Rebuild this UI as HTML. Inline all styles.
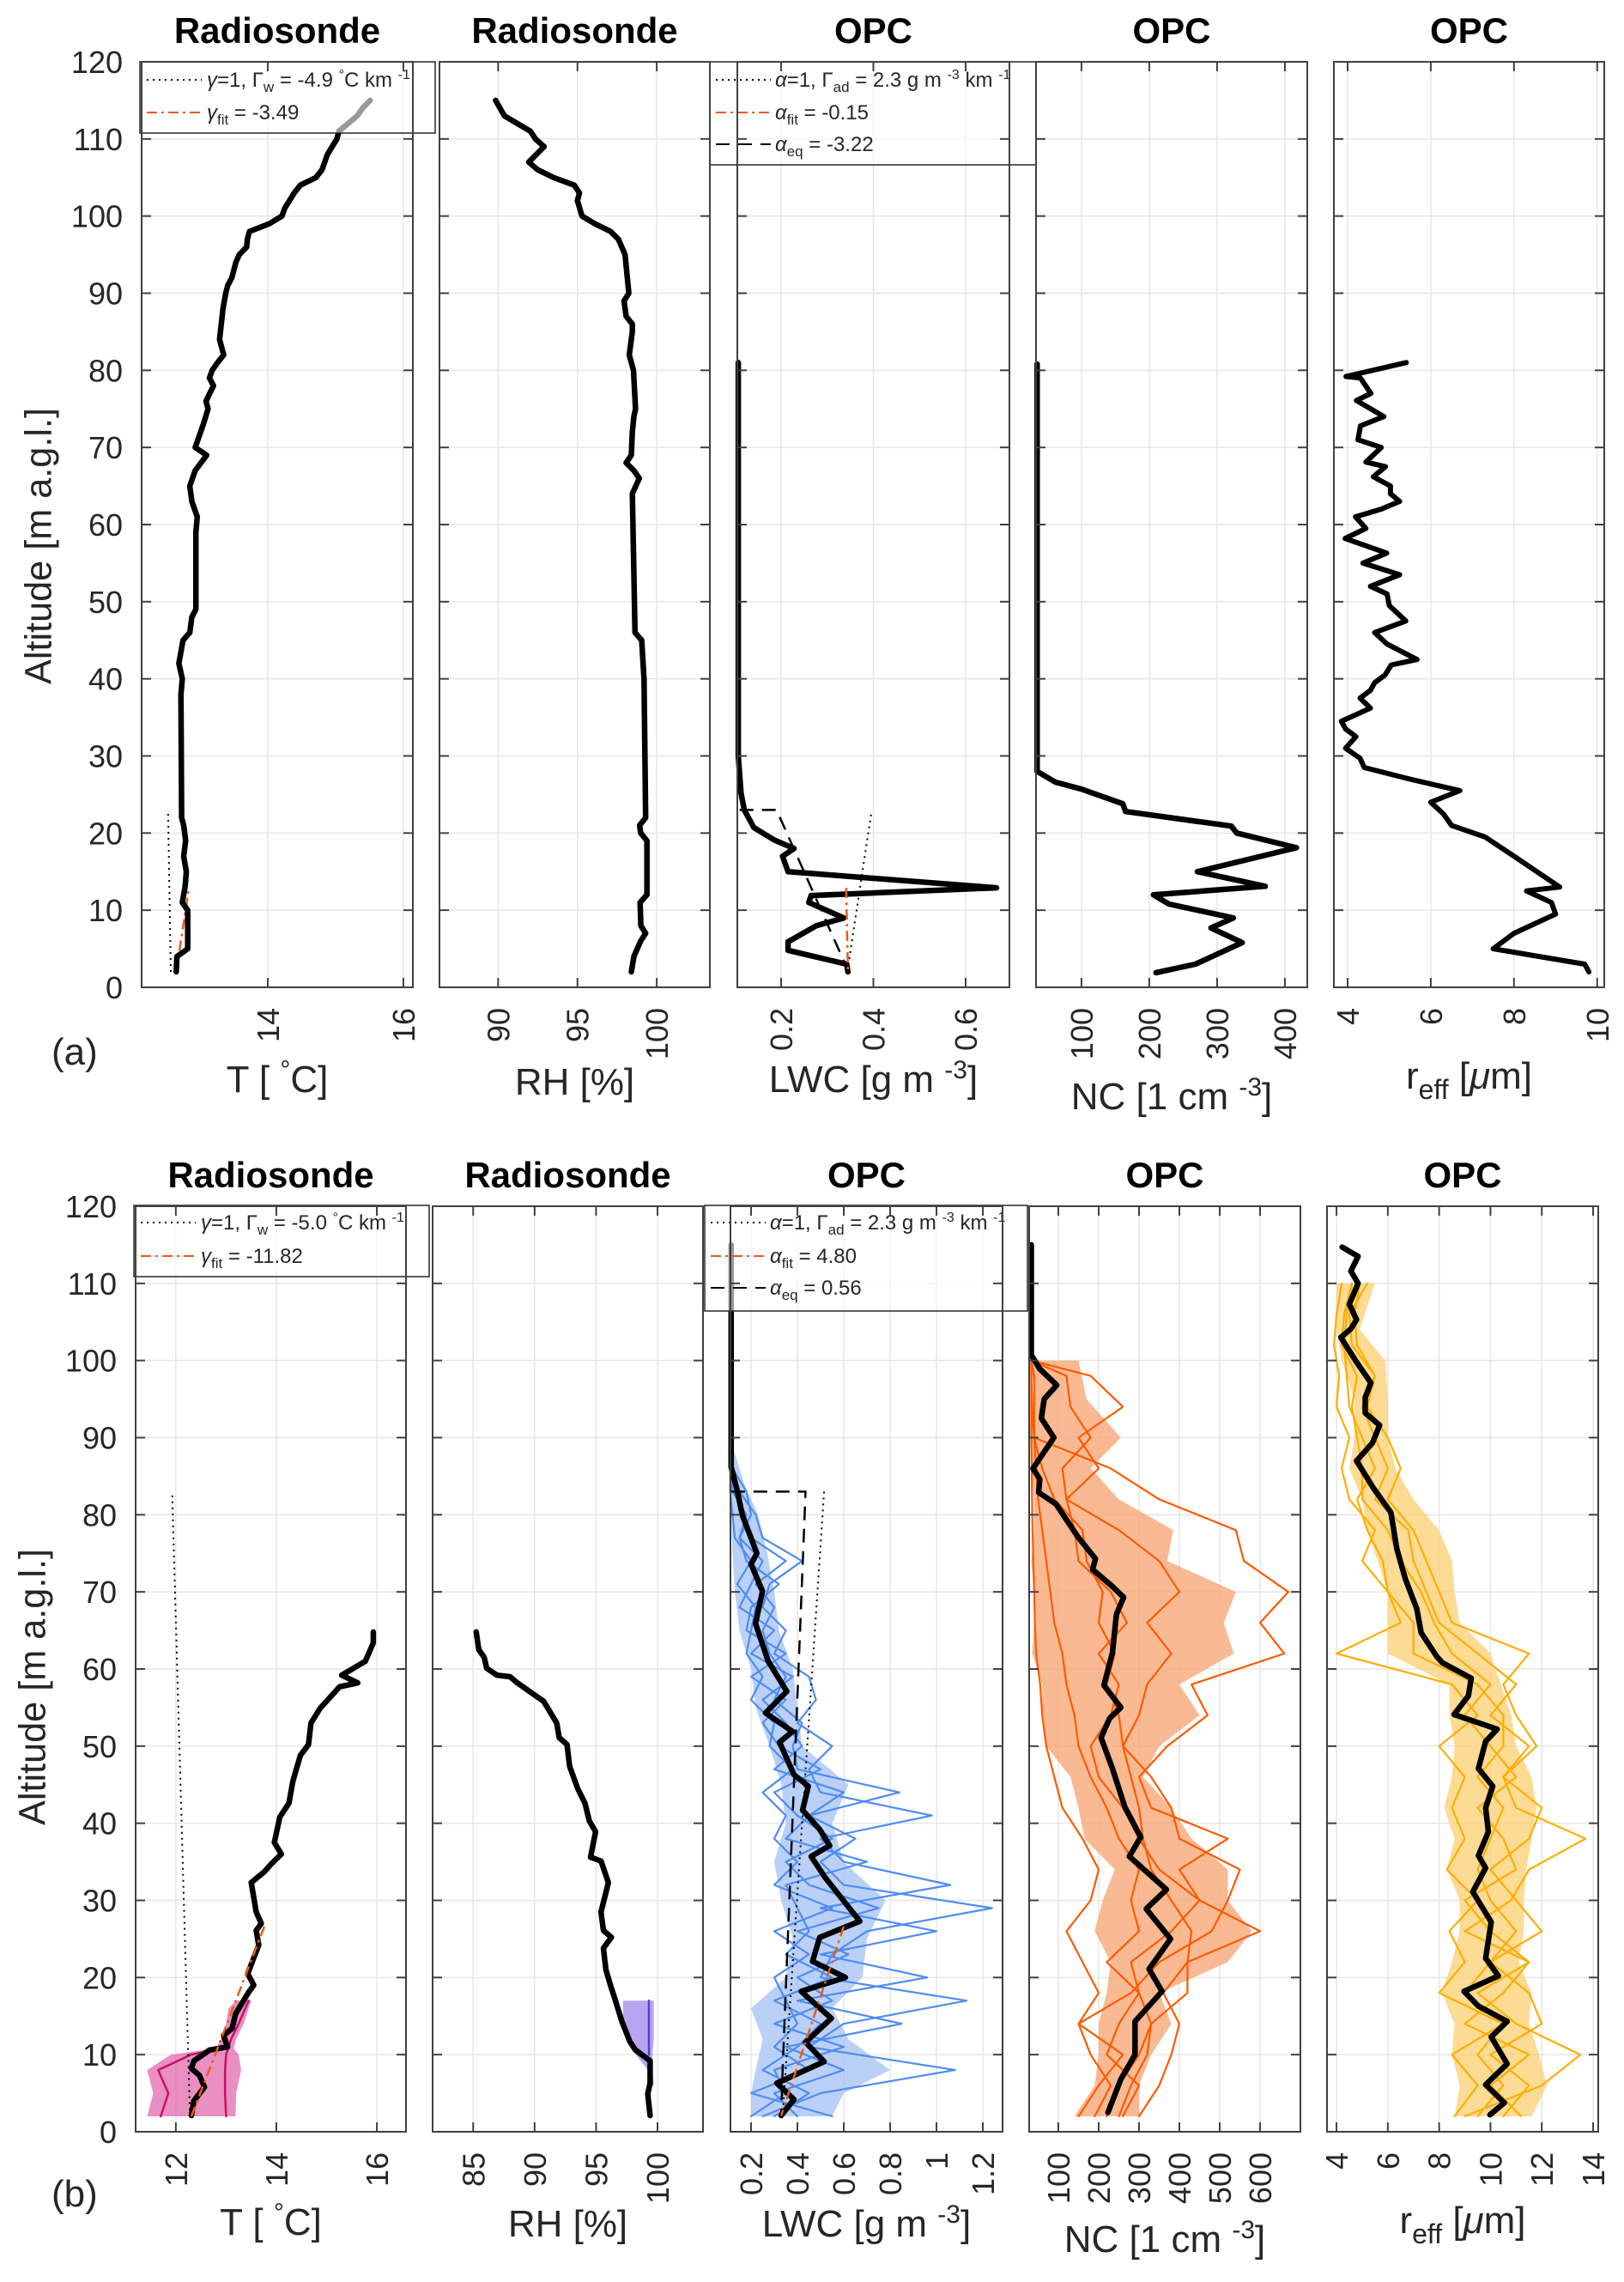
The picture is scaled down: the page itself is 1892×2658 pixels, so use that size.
<!DOCTYPE html>
<html><head><meta charset="utf-8"><title>Radiosonde and OPC profiles</title>
<style>
html,body{margin:0;padding:0;background:#fff;}
svg{display:block;font-family:"Liberation Sans",Arial,sans-serif;}
</style></head>
<body>
<svg id="chart" width="1892" height="2658" viewBox="0 0 1892 2658" xmlns="http://www.w3.org/2000/svg">
<rect x="0" y="0" width="1892" height="2658" fill="#fff"/>
<g id="plots"></g>

<g font-size="24" fill="#262626">
  <rect x="163" y="72" width="344" height="83" fill="#fff" fill-opacity="0.6" stroke="#262626" stroke-width="1.5"/>
  <line x1="171" y1="93" x2="235" y2="93" stroke="#000" stroke-width="2" stroke-dasharray="2,5"/>
  <text x="241" y="101"><tspan font-style="italic">γ</tspan>=1,   Γ<tspan dy="6" font-size="17">w</tspan><tspan dy="-6"> = -4.9 </tspan><tspan dy="-9" font-size="16">°</tspan><tspan dy="9">C km </tspan><tspan dy="-9" font-size="16">-1</tspan></text>
  <line x1="171" y1="131" x2="235" y2="131" stroke="#f05a14" stroke-width="2" stroke-dasharray="12,5,3,5"/>
  <text x="241" y="139"><tspan font-style="italic">γ</tspan><tspan dy="6" font-size="17">fit</tspan><tspan dy="-6"> = -3.49</tspan></text>
</g>
<g font-size="24" fill="#262626">
  <rect x="827" y="72" width="380" height="120" fill="#fff" fill-opacity="0.6" stroke="#262626" stroke-width="1.5"/>
  <line x1="834" y1="93" x2="898" y2="93" stroke="#000" stroke-width="2" stroke-dasharray="2,5"/>
  <text x="903" y="101"><tspan font-style="italic">α</tspan>=1,   Γ<tspan dy="6" font-size="17">ad</tspan><tspan dy="-6"> = 2.3 g m </tspan><tspan dy="-9" font-size="16">-3</tspan><tspan dy="9"> km </tspan><tspan dy="-9" font-size="16">-1</tspan></text>
  <line x1="834" y1="131" x2="898" y2="131" stroke="#f05a14" stroke-width="2" stroke-dasharray="12,5,3,5"/>
  <text x="903" y="139"><tspan font-style="italic">α</tspan><tspan dy="6" font-size="17">fit</tspan><tspan dy="-6"> = -0.15</tspan></text>
  <line x1="834" y1="168" x2="898" y2="168" stroke="#000" stroke-width="2" stroke-dasharray="16,10"/>
  <text x="903" y="176"><tspan font-style="italic">α</tspan><tspan dy="6" font-size="17">eq</tspan><tspan dy="-6"> = -3.22</tspan></text>
</g>
<g font-size="24" fill="#262626">
  <rect x="156" y="1404" width="344" height="83" fill="#fff" fill-opacity="0.6" stroke="#262626" stroke-width="1.5"/>
  <line x1="164" y1="1424" x2="228" y2="1424" stroke="#000" stroke-width="2" stroke-dasharray="2,5"/>
  <text x="234" y="1432"><tspan font-style="italic">γ</tspan>=1,   Γ<tspan dy="6" font-size="17">w</tspan><tspan dy="-6"> = -5.0 </tspan><tspan dy="-9" font-size="16">°</tspan><tspan dy="9">C km </tspan><tspan dy="-9" font-size="16">-1</tspan></text>
  <line x1="164" y1="1463" x2="228" y2="1463" stroke="#f05a14" stroke-width="2" stroke-dasharray="12,5,3,5"/>
  <text x="234" y="1471"><tspan font-style="italic">γ</tspan><tspan dy="6" font-size="17">fit</tspan><tspan dy="-6"> = -11.82</tspan></text>
</g>
<g font-size="24" fill="#262626">
  <rect x="821" y="1404" width="376" height="123" fill="#fff" fill-opacity="0.6" stroke="#262626" stroke-width="1.5"/>
  <line x1="828" y1="1424" x2="892" y2="1424" stroke="#000" stroke-width="2" stroke-dasharray="2,5"/>
  <text x="897" y="1432"><tspan font-style="italic">α</tspan>=1,   Γ<tspan dy="6" font-size="17">ad</tspan><tspan dy="-6"> = 2.3 g m </tspan><tspan dy="-9" font-size="16">-3</tspan><tspan dy="9"> km </tspan><tspan dy="-9" font-size="16">-1</tspan></text>
  <line x1="828" y1="1463" x2="892" y2="1463" stroke="#f05a14" stroke-width="2" stroke-dasharray="12,5,3,5"/>
  <text x="897" y="1471"><tspan font-style="italic">α</tspan><tspan dy="6" font-size="17">fit</tspan><tspan dy="-6"> = 4.80</tspan></text>
  <line x1="828" y1="1500" x2="892" y2="1500" stroke="#000" stroke-width="2" stroke-dasharray="16,10"/>
  <text x="897" y="1508"><tspan font-style="italic">α</tspan><tspan dy="6" font-size="17">eq</tspan><tspan dy="-6"> = 0.56</tspan></text>
</g>

<g id="frames"></g>

<g font-size="44" fill="#262626">
  <text x="45" y="636" transform="rotate(-90 45 636)" text-anchor="middle" dominant-baseline="central" textLength="322" lengthAdjust="spacingAndGlyphs">Altitude [m a.g.l.]</text>
  <text x="38" y="1965" transform="rotate(-90 38 1965)" text-anchor="middle" dominant-baseline="central" textLength="322" lengthAdjust="spacingAndGlyphs">Altitude [m a.g.l.]</text>
  <text x="60" y="1240">(a)</text>
  <text x="60" y="2570">(b)</text>
</g>
</svg>

<script>
// ---------------- DATA: row (a) ----------------
const aT_alt  = [2,4,5,10,11,13,15,17,19,21,22,38,40,42,45,46,48,49,59,61,63,65,67,69,70,73,75,76,78,79,80,81,82,84,88,90,91,92,94,95,96,97,98,99,100,101,103,104,105,106,108,110,111];
const aT_val  = [12.65,12.66,12.82,12.82,12.74,12.78,12.80,12.76,12.79,12.76,12.73,12.72,12.74,12.69,12.75,12.85,12.88,12.94,12.94,12.96,12.88,12.85,12.93,13.10,12.93,13.05,13.12,13.09,13.2,13.14,13.18,13.26,13.35,13.29,13.34,13.38,13.41,13.47,13.53,13.58,13.69,13.70,13.73,14.02,14.21,14.25,14.39,14.48,14.71,14.80,14.88,15.02,15.05];
const aTg_alt = [111,113,114,115];
const aTg_val = [15.05,15.32,15.40,15.51];
const aTdot_alt = [2,23];   const aTdot_val = [12.57,12.53];
const aTfit_alt = [2,13];   const aTfit_val = [12.65,12.84];

const aRH_alt = [2,4,6,7,8,11,12,19,20,21,22,40,45,46,64,66,67,68,69,72,74,75,80,82,84,85,86,87,89,90,95,97,98,99,100,102,103,104,105,106,107,109,110,111,113,115];
const aRH_val = [98.4,98.56,98.99,99.3,99.0,98.95,99.38,99.38,98.99,98.92,99.3,99.2,99.05,98.63,98.46,98.9,98.56,98.07,98.4,98.46,98.56,98.66,98.53,98.27,98.4,98.46,98.46,98.07,97.94,98.24,98.0,97.58,97.09,96.11,95.29,95.0,95.13,94.8,93.5,92.5,91.93,92.9,92.35,92.03,90.39,89.84];

const aLWC_alt = [81,30,25.2,23,20.7,19.1,18,17,15,12.9,11.9,11,9,8,5.9,4.8,3,2];
const aLWC_val = [0.107,0.107,0.113,0.12,0.141,0.185,0.228,0.203,0.215,0.667,0.265,0.26,0.336,0.277,0.215,0.215,0.342,0.345];
const aLWCeq_alt = [23,23,2.6];   const aLWCeq_val = [0.11,0.19,0.342];
const aLWCdot_alt = [22.4,2.6];   const aLWCdot_val = [0.395,0.345];
const aLWCfit_alt = [12.9,2];     const aLWCfit_val = [0.341,0.345];

const aNC_alt = [80.8,28,26.6,25.7,23.8,22.8,20.9,20,18.1,15,13.1,12,10.8,9,7.7,5.8,3,1.9];
const aNC_val = [34.7,34.7,61.5,100,161,165,321,329,417,271,371,206,229,324,291,337,268,210];

const aR_alt = [81,79.2,79,77,76.1,74,72.8,71,70,68.1,67.5,66.2,65,64,63,62,61,59.5,58.2,56.3,55,53.5,52,51,49.5,47.5,46,44.5,42.5,41.8,40.5,39.5,38.5,37.5,36.2,34.5,33.5,32.5,31,29.7,28.5,27,25.5,24,22.5,21,19.5,17,13,12.5,11,9.5,7,5,3,2];
const aR_val = [5.41,3.96,4.31,4.56,4.21,4.87,4.31,4.25,4.81,4.44,4.91,4.62,5.03,5.03,5.25,4.81,4.19,4.44,3.94,4.94,4.37,5.25,4.55,4.95,5.0,5.4,4.65,4.95,5.67,5.05,4.9,4.65,4.55,4.3,4.55,3.85,3.95,4.2,3.95,4.3,4.4,5.5,6.7,6.0,6.3,6.5,7.3,8.0,9.1,8.3,8.9,9.0,8.0,7.5,9.7,9.8];

// ---------------- DATA: row (b) ----------------
const bT_alt = [2.1,4,5.8,7.3,8.2,9.2,10.6,11,12.5,13.4,15.3,18.1,19,20.5,24.2,26.1,27,28.5,32.3,33.7,34.6,36,37.5,40.8,42.6,45.5,48.8,50.2,53,54.9,57.7,58.2,59.2,61,63.4,64.8];
const bT_val = [12.31,12.36,12.57,12.47,12.31,12.36,12.67,13.03,12.95,13.12,13.19,13.45,13.55,13.43,13.65,13.6,13.7,13.6,13.5,13.76,13.88,14.1,13.96,14.07,14.25,14.33,14.48,14.64,14.69,14.87,15.26,15.62,15.3,15.77,15.93,15.93];
const bTdot_alt = [82.5,2.5];  const bTdot_val = [11.93,12.28];
const bTfit_alt = [2,26.6];    const bTfit_val = [12.31,13.76];
const bTband_alt = [2,5,8,10,10.8,12,14,16,17];
const bTband_lo  = [11.43,11.55,11.43,11.9,12.8,12.9,13.0,13.05,13.2];
const bTband_hi  = [13.19,13.2,13.3,13.25,13.15,13.2,13.35,13.45,13.5];
const bTpinkA_alt = [2,5,8,10,10.8];      const bTpinkA_val = [11.7,11.85,11.65,12.3,12.9];
const bTpinkB_alt = [2,5,8,10,12,14,17];  const bTpinkB_val = [13.0,12.98,12.98,13.0,13.1,13.25,13.45];

const bRH_alt = [2.1,4.9,6.3,9.2,10.6,11.7,14.3,17.6,18.6,21,23.8,25.2,26.1,28.5,32.3,35.1,35.6,38.9,40.3,42.6,44.5,47.4,50.2,51.1,53,55.8,58.2,59,59.2,60.1,61.5,62.5,64.8];
const bRH_val = [99.4,99.2,99.4,99.4,98.2,97.75,97.1,96.46,96.25,95.8,95.6,96.25,95.6,95.4,96.0,95.4,94.55,94.96,94.45,94.1,93.5,92.85,92.64,92.0,91.8,90.74,88.6,88.0,86.94,86.1,85.9,85.46,85.25];
const bRHband_alt = [6,8,10.5,12,15,17];
const bRHband_lo  = [99.2,99.2,98.0,97.6,97.2,97.2];
const bRHband_hi  = [99.7,99.6,99.6,99.7,99.7,99.7];
const bRHline_alt = [10,12,15,17];  const bRHline_val = [99.3,99.3,99.3,99.3];

const bLWC_alt = [106.5,86.2,83.4,79.9,75,73.6,70.1,65.9,61,57.1,54.3,51.9,50.5,46.3,44.8,41.7,39.2,37.1,35.7,32.9,27.3,25.2,22.1,20,18.2,14.7,11.6,9.1,6.3,4.2,2.1];
const bLWC_val = [0.114,0.114,0.138,0.163,0.225,0.2,0.249,0.219,0.274,0.354,0.262,0.379,0.323,0.385,0.447,0.422,0.496,0.539,0.459,0.521,0.669,0.496,0.465,0.607,0.416,0.546,0.435,0.515,0.311,0.385,0.33];
const bLWCg_alt = [115,106.5];  const bLWCg_val = [0.114,0.114];
const bLWCeq_alt = [83,83,8.1,2.1];   const bLWCeq_val = [0.114,0.435,0.336,0.33];
const bLWCdot_alt = [83,2.1];   const bLWCdot_val = [0.515,0.336];
const bLWCfit_alt = [26.6,2.1]; const bLWCfit_val = [0.6,0.33];
const bLWCband_alt = [2,5,8,12,16,20,25,30,35,40,45,50,55,60,65,70,75,80,84,88];
const bLWCband_lo  = [0.2,0.2,0.22,0.25,0.2,0.35,0.38,0.33,0.3,0.35,0.33,0.28,0.22,0.2,0.15,0.13,0.12,0.115,0.11,0.11];
const bLWCband_hi  = [0.55,0.6,0.8,0.62,0.55,0.68,0.7,0.78,0.6,0.55,0.62,0.42,0.4,0.38,0.32,0.3,0.27,0.23,0.17,0.13];
const bLWCens_alt = [2,5,8,11,14,17,20,23,26,29,32,35,38,41,44,47,50,53,56,59,62,65,68,71,74,77,80,83,86];
const blue1 = [0.25,0.5,1.08,0.45,0.6,1.13,0.5,0.55,0.7,1.24,0.6,0.5,0.65,0.45,0.84,0.4,0.38,0.42,0.3,0.35,0.28,0.25,0.3,0.22,0.35,0.2,0.16,0.13,0.12];
const blue2 = [0.4,0.3,0.6,0.35,0.85,0.4,0.96,0.5,1.0,0.5,1.06,0.6,0.5,0.98,0.5,0.45,0.55,0.4,0.48,0.45,0.3,0.35,0.25,0.28,0.42,0.25,0.22,0.15,0.11];
const blue3 = [0.2,0.35,0.3,0.6,0.3,0.55,0.4,0.62,0.4,0.75,0.45,0.35,0.55,0.4,0.3,0.5,0.32,0.25,0.35,0.2,0.35,0.18,0.2,0.32,0.18,0.15,0.2,0.18,0.12];
const blue4 = [0.3,0.45,0.25,0.4,0.5,0.3,0.55,0.35,0.45,0.4,0.35,0.7,0.35,0.45,0.6,0.3,0.42,0.35,0.25,0.38,0.2,0.3,0.15,0.2,0.25,0.15,0.18,0.12,0.11];
const blue5 = [0.55,0.2,0.45,0.3,0.4,0.35,0.3,0.45,0.3,0.55,0.3,0.4,0.3,0.35,0.25,0.38,0.28,0.3,0.2,0.25,0.18,0.2,0.22,0.14,0.2,0.13,0.12,0.11,0.11];

const bNC_alt = [115,100.7,98.9,96.8,95,92.5,90,86,84.6,82.9,81.4,77.1,74.3,72.9,70.7,69.3,67.1,62.1,57.9,55,53.6,51.1,47.1,42.1,38.2,35.7,31.4,28.9,25,21.1,18.2,14.3,10,6.8,2.5];
const bNC_val = [33,33,54,96,65,58,89,37,54,51,94,149,192,185,234,262,244,234,213,255,227,206,234,265,304,276,368,318,378,325,357,290,290,255,223];
const bNCband_alt = [2,6,10,14,18,22,26,30,34,38,42,46,50,54,58,62,66,70,74,78,82,86,90,95,100];
const bNCband_lo  = [140,190,200,200,220,230,190,210,240,165,150,130,70,60,60,35,40,40,33,40,40,33,33,40,33];
const bNCband_hi  = [300,300,330,380,350,520,580,520,520,430,380,310,350,450,400,535,510,540,370,385,250,180,255,170,150];
const bNCens_alt = [2,6,10,14,18,22,26,30,34,38,42,46,50,54,58,62,66,70,74,78,82,86,90,94,98,100];
const nc1 = [250,280,320,330,420,420,600,450,400,520,330,300,370,470,430,660,600,670,560,540,350,230,40,40,40,33];
const nc2 = [150,200,260,150,280,350,480,520,550,400,380,330,260,300,320,380,320,400,350,250,120,200,150,260,180,33];
const nc3 = [220,250,300,330,300,280,380,450,350,300,260,200,180,230,250,200,270,230,150,140,120,110,180,130,120,33];
const nc4 = [260,300,220,250,300,220,300,280,300,250,220,180,150,140,120,110,90,80,70,60,50,45,40,35,33,33];
const nc5 = [190,230,180,150,200,160,120,180,200,160,110,90,70,60,55,45,42,40,38,36,35,34,33,33,33,33];
const nc6 = [300,350,380,400,360,420,430,380,330,310,300,280,260,250,220,240,200,210,170,160,90,60,40,35,33,33];

const bR_alt = [114.7,113.5,111.6,110,107.3,105.3,104.1,103,99.8,97.1,95.2,93.2,91.6,89.3,87,83.4,80.3,75.6,71.7,67.8,64.7,61.6,60.8,58.8,56.5,54.1,52.2,50.6,47.1,44.8,42,38.9,35.8,34.2,31.1,27.2,22.5,20.2,18.2,16.3,14.3,12.3,8.8,6.1,3.75,2.2];
const bR_val = [4.22,4.84,4.56,4.84,4.5,4.78,4.56,4.17,4.78,5.34,5.12,5.12,5.68,5.4,4.78,5.45,6.12,6.35,6.68,7.13,7.3,7.91,8.13,9.25,9.14,8.58,10.26,9.81,9.53,10.09,9.81,9.92,9.53,9.81,9.31,10.03,9.81,10.31,8.97,9.53,10.65,10.03,10.65,9.81,10.54,9.98];
const bRband_alt = [2,6,10,14,18,22,26,30,34,38,42,46,50,54,58,62,66,70,74,78,82,86,90,95,100,104,110];
const bRband_lo  = [8.6,8.8,8.5,8.6,8.1,8.5,8.8,8.8,8.3,8.6,8.2,8.5,8.6,8.4,8.4,6.0,6.0,6.0,5.6,5.2,5.0,4.5,4.7,4.7,4.2,4.0,4.0];
const bRband_hi  = [11.6,12.2,11.9,11.5,11.6,11.1,11.3,11.3,11.4,11.6,11.8,11.6,11.0,10.8,10.4,10.0,8.8,8.6,8.5,8.0,7.0,6.3,6.0,6.0,5.9,4.9,5.5];
const bRens_alt = [2,6,10,14,18,22,26,30,34,38,42,46,50,54,58,62,66,70,74,78,82,86,90,94,98,102,106,110];
const r1 = [9.0,12.0,13.5,11.0,9.5,11.5,9.0,10.8,11.5,13.7,11.0,10.5,11.8,11.0,10.5,11.5,8.5,8.0,7.5,7.0,6.0,6.5,6.0,5.2,5.5,4.6,4.5,5.2];
const r2 = [8.6,9.5,8.5,10.5,8.0,9.0,8.4,9.5,8.3,9.0,8.5,9.0,8.0,9.5,8.5,4.0,6.5,6.0,5.0,5.5,4.5,4.2,4.5,4.0,4.1,3.9,4.0,4.2];
const r3 = [10.5,11.5,10.0,12.0,11.5,10.0,12.0,11.0,10.0,11.5,12.0,10.5,11.5,10.0,11.0,9.5,8.0,7.5,7.0,6.8,5.5,6.0,5.5,5.0,5.5,4.8,4.7,4.9];
const r4 = [11.2,10.0,11.5,9.0,10.5,11.5,10.0,9.0,11.0,10.5,9.5,11.0,10.0,9.0,10.0,8.5,7.8,7.3,6.5,6.0,5.0,5.0,4.8,4.6,4.8,4.2,4.3,4.6];
const r5 = [9.5,10.5,9.5,10.5,9.0,10.0,11.0,10.0,9.5,10.0,10.5,9.5,10.5,10.5,9.5,7.0,7.0,6.0,5.8,5.2,4.8,5.5,5.0,4.5,4.4,4.3,4.4,4.6];

const aTicks = [[14,16],[90,95,100],[0.2,0.4,0.6],[100,200,300,400],[4,6,8,10]];
const bTicks = [[12,14,16],[85,90,95,100],[0.2,0.4,0.6,0.8,1,1.2],[100,200,300,400,500,600],[4,6,8,10,12,14]];
const altTicks = [0,10,20,30,40,50,60,70,80,90,100,110,120];
const titles = ['Radiosonde','Radiosonde','OPC','OPC','OPC'];

// ---------------- rendering ----------------
const NS = 'http://www.w3.org/2000/svg';
const plots = document.getElementById('plots');
const frames = document.getElementById('frames');
function mk(tag, parent){ const e = document.createElementNS(NS, tag); parent.appendChild(e); return e; }

function panel(left, right, top, bottom, xmin, xmax){
  return {left, right, top, bottom,
    sx: v => left + (v - xmin) / (xmax - xmin) * (right - left),
    sy: a => bottom - a / 120 * (bottom - top)};
}
const rowA = [
  panel(165,481,72,1150,12.14,16.14), panel(512,827,72,1150,86.3,103.35),
  panel(859,1176,72,1150,0.105,0.695), panel(1207,1523,72,1150,33,433),
  panel(1554,1869,72,1150,3.67,10.17)];
const rowB = [
  panel(158,473,1405,2483,11.2,16.58), panel(504,819,1405,2483,81.7,103.7),
  panel(851,1168,1405,2483,0.111,1.285), panel(1199,1515,1405,2483,27.7,700),
  panel(1546,1862,1405,2483,3.63,14.2)];

function drawGrid(p, ticks){
  const g = mk('g', plots);
  
  
  g.setAttribute('stroke', '#e6e6e6'); g.setAttribute('stroke-width', '1.5');
  altTicks.forEach(a => { const l = mk('line', g); l.setAttribute('x1', p.left); l.setAttribute('x2', p.right); l.setAttribute('y1', p.sy(a)); l.setAttribute('y2', p.sy(a)); });
  ticks.forEach(t => { const x = p.sx(t); if (x < p.left || x > p.right) return; const l = mk('line', g); l.setAttribute('x1', x); l.setAttribute('x2', x); l.setAttribute('y1', p.top); l.setAttribute('y2', p.bottom); });
}
function line(p, alts, vals, color, width, dash, name){
  const e = mk('polyline', plots);
  
  
  e.setAttribute('points', alts.map((a, i) => p.sx(vals[i]).toFixed(1) + ',' + p.sy(a).toFixed(1)).join(' '));
  e.setAttribute('fill', 'none'); e.setAttribute('stroke', color); e.setAttribute('stroke-width', width);
  e.setAttribute('stroke-linejoin', 'round'); e.setAttribute('stroke-linecap', dash ? 'butt' : 'round');
  if (dash) e.setAttribute('stroke-dasharray', dash);
  return e;
}
function band(p, alts, lo, hi, color, opacity, name){
  const pts = alts.map((a, i) => p.sx(lo[i]).toFixed(1) + ',' + p.sy(a).toFixed(1));
  for (let i = alts.length - 1; i >= 0; i--) pts.push(p.sx(hi[i]).toFixed(1) + ',' + p.sy(alts[i]).toFixed(1));
  const e = mk('polygon', plots);
  
  
  e.setAttribute('points', pts.join(' '));
  e.setAttribute('fill', color); e.setAttribute('fill-opacity', opacity);
}
function frame(p, ticks, showAlt, row, idx){
  const g = mk('g', frames);
  
  
  const r = mk('rect', g);
  r.setAttribute('x', p.left); r.setAttribute('y', p.top); r.setAttribute('width', p.right - p.left); r.setAttribute('height', p.bottom - p.top);
  r.setAttribute('fill', 'none'); r.setAttribute('stroke', '#404040'); r.setAttribute('stroke-width', '2');
  const tl = 11;
  altTicks.forEach(a => {
    const y = p.sy(a);
    [[p.left, p.left + tl], [p.right - tl, p.right]].forEach(s => { const l = mk('line', g); l.setAttribute('x1', s[0]); l.setAttribute('x2', s[1]); l.setAttribute('y1', y); l.setAttribute('y2', y); l.setAttribute('stroke', '#404040'); l.setAttribute('stroke-width', '2'); });
    if (showAlt) {
      const t = mk('text', g);
      
      
      t.setAttribute('x', p.left - 22); t.setAttribute('y', y + 13); t.setAttribute('text-anchor', 'end');
      t.setAttribute('font-size', '36'); t.setAttribute('fill', '#262626'); t.textContent = a;
    }
  });
  ticks.forEach(v => {
    const x = p.sx(v);
    [[p.bottom - tl, p.bottom], [p.top, p.top + tl]].forEach(s => { const l = mk('line', g); l.setAttribute('x1', x); l.setAttribute('x2', x); l.setAttribute('y1', s[0]); l.setAttribute('y2', s[1]); l.setAttribute('stroke', '#404040'); l.setAttribute('stroke-width', '2'); });
    const t = mk('text', g);
    
    
    const ty = p.bottom + 24;
    t.setAttribute('transform', 'translate(' + (x + 13).toFixed(1) + ',' + ty + ') rotate(-90)');
    t.setAttribute('text-anchor', 'end'); t.setAttribute('font-size', '36'); t.setAttribute('fill', '#262626');
    t.textContent = v;
  });
  const ti = mk('text', g);
  
  
  ti.setAttribute('x', (p.left + p.right) / 2); ti.setAttribute('y', p.top - 22);
  ti.setAttribute('text-anchor', 'middle'); ti.setAttribute('font-size', '42'); ti.setAttribute('font-weight', 'bold'); ti.setAttribute('fill', '#000');
  ti.textContent = titles[idx];
}
function xlabel(p, html, dy, name){
  const t = mk('text', frames);
  
  
  t.setAttribute('x', (p.left + p.right) / 2); t.setAttribute('y', p.bottom + dy);
  t.setAttribute('text-anchor', 'middle'); t.setAttribute('font-size', '44'); t.setAttribute('fill', '#262626');
  t.innerHTML = html;
}

const BLACK = '#000', ORANGE = '#f05a14', W = 6.5;
rowA.forEach((p, i) => drawGrid(p, aTicks[i]));
let p = rowA[0];
line(p, aTdot_alt, aTdot_val, BLACK, 2, '2,5', 'temperature-a-moist-adiabat');
line(p, aTfit_alt, aTfit_val, ORANGE, 2.5, '12,5,3,5', 'temperature-a-fit');
line(p, aT_alt, aT_val, BLACK, W, null, 'temperature-a-profile');
line(p, aTg_alt, aTg_val, BLACK, W, null, 'temperature-a-profile-top');
p = rowA[1];
line(p, aRH_alt, aRH_val, BLACK, W, null, 'rh-a-profile');
p = rowA[2];
line(p, aLWCeq_alt, aLWCeq_val, BLACK, 2.5, '16,10', 'lwc-a-equivalent');
line(p, aLWCdot_alt, aLWCdot_val, BLACK, 2, '2,5', 'lwc-a-adiabatic');
line(p, aLWC_alt, aLWC_val, BLACK, W, null, 'lwc-a-profile');
line(p, aLWCfit_alt, aLWCfit_val, ORANGE, 2.5, '12,5,3,5', 'lwc-a-fit');
p = rowA[3];
line(p, aNC_alt, aNC_val, BLACK, W, null, 'nc-a-profile');
p = rowA[4];
line(p, aR_alt, aR_val, BLACK, 6, null, 'reff-a-profile');

rowB.forEach((p, i) => drawGrid(p, bTicks[i]));
p = rowB[0];
band(p, bTband_alt, bTband_lo, bTband_hi, '#e060a8', 0.7, 'temperature-b-spread');
line(p, bTpinkA_alt, bTpinkA_val, '#c8106a', 2.5, null, 'temperature-b-member-1');
line(p, bTpinkB_alt, bTpinkB_val, '#c8106a', 2.5, null, 'temperature-b-member-2');
line(p, bTdot_alt, bTdot_val, BLACK, 2, '2,5', 'temperature-b-moist-adiabat');
line(p, bT_alt, bT_val, BLACK, W, null, 'temperature-b-profile');
line(p, bTfit_alt, bTfit_val, ORANGE, 2.5, '12,5,3,5', 'temperature-b-fit');
p = rowB[1];
band(p, bRHband_alt, bRHband_lo, bRHband_hi, '#9f88ea', 0.75, 'rh-b-spread');
line(p, bRHline_alt, bRHline_val, '#5a3ad8', 2.5, null, 'rh-b-member');
line(p, bRH_alt, bRH_val, BLACK, W, null, 'rh-b-profile');
p = rowB[2];
band(p, bLWCband_alt, bLWCband_lo, bLWCband_hi, '#a9c4f5', 0.8, 'lwc-b-spread');
[blue1, blue2, blue3, blue4, blue5].forEach(s => line(p, bLWCens_alt, s, '#4f8cf2', 2.2, null, 'lwc-b-member'));
line(p, bLWCeq_alt, bLWCeq_val, BLACK, 2.5, '16,10', 'lwc-b-equivalent');
line(p, bLWCdot_alt, bLWCdot_val, BLACK, 2, '2,5', 'lwc-b-adiabatic');
line(p, bLWC_alt, bLWC_val, BLACK, W, null, 'lwc-b-profile');
line(p, bLWCg_alt, bLWCg_val, BLACK, W, null, 'lwc-b-profile-top');
line(p, bLWCfit_alt, bLWCfit_val, ORANGE, 2.5, '12,5,3,5', 'lwc-b-fit');
p = rowB[3];
band(p, bNCband_alt, bNCband_lo, bNCband_hi, '#f8a878', 0.8, 'nc-b-spread');
[nc1, nc2, nc3, nc4, nc5, nc6].forEach(s => line(p, bNCens_alt, s, '#ff5a00', 2.2, null, 'nc-b-member'));
line(p, bNC_alt, bNC_val, BLACK, W, null, 'nc-b-profile');
p = rowB[4];
band(p, bRband_alt, bRband_lo, bRband_hi, '#fbd27a', 0.8, 'reff-b-spread');
[r1, r2, r3, r4, r5].forEach(s => line(p, bRens_alt, s, '#ffad00', 2.2, null, 'reff-b-member'));
line(p, bR_alt, bR_val, BLACK, W, null, 'reff-b-profile');

rowA.forEach((p, i) => frame(p, aTicks[i], i === 0, 'a', i));
rowB.forEach((p, i) => frame(p, bTicks[i], i === 0, 'b', i));

const sup = s => '<tspan dy="-16" font-size="30">' + s + '</tspan><tspan dy="16">';
xlabel(rowA[0], 'T [ ' + sup('°') + 'C]</tspan>', 122, 'x-axis-title-temperature-a');
xlabel(rowA[1], 'RH [%]', 125, 'x-axis-title-rh-a');
xlabel(rowA[2], 'LWC [g m ' + sup('-3') + ']</tspan>', 122, 'x-axis-title-lwc-a');
xlabel(rowA[3], 'NC [1 cm ' + sup('-3') + ']</tspan>', 142, 'x-axis-title-nc-a');
xlabel(rowA[4], 'r<tspan dy="12" font-size="32">eff</tspan><tspan dy="-12"> [</tspan><tspan font-style="italic">μ</tspan>m]', 118, 'x-axis-title-reff-a');
xlabel(rowB[0], 'T [ ' + sup('°') + 'C]</tspan>', 120, 'x-axis-title-temperature-b');
xlabel(rowB[1], 'RH [%]', 122, 'x-axis-title-rh-b');
xlabel(rowB[2], 'LWC [g m ' + sup('-3') + ']</tspan>', 122, 'x-axis-title-lwc-b');
xlabel(rowB[3], 'NC [1 cm ' + sup('-3') + ']</tspan>', 140, 'x-axis-title-nc-b');
xlabel(rowB[4], 'r<tspan dy="12" font-size="32">eff</tspan><tspan dy="-12"> [</tspan><tspan font-style="italic">μ</tspan>m]', 118, 'x-axis-title-reff-b');
</script>
</body></html>
